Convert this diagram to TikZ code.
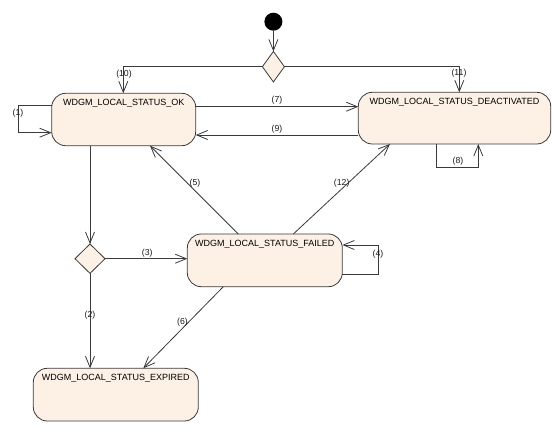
\documentclass[tikz,border=0pt]{standalone}
\usepackage{fontspec}
\setmainfont{Liberation Sans}
\usetikzlibrary{arrows.meta,shapes.geometric,calc}
\definecolor{stfill}{HTML}{FCF1E4}
\definecolor{stline}{HTML}{3A3A3A}
\newcommand\sttitle[3]{\vbox to #2{\hsize=#1\vskip 6.2pt\hbox to #1{\hfil #3\hfil}\vfil}}
\begin{document}
\begin{tikzpicture}[x=1pt,y=-1pt,
  every node/.style={font=\fontsize{9}{11}\selectfont},
  statebox/.style={draw=stline, line width=0.8pt, fill=stfill, rounded corners=14pt, inner sep=0pt, outer sep=0pt, anchor=north west},
  choice/.style={draw=stline, line width=0.8pt, fill=stfill, shape=diamond, inner sep=0pt, outer sep=0pt},
  conn/.style={draw=stline, line width=0.8pt, -{Straight Barb[length=11pt,width=9pt]}},
  lbl/.style={font=\fontsize{8.7}{10}\selectfont, inner sep=0pt, text=black!90}]
\useasboundingbox (0,0) rectangle (554,444);
\fill[white] (0,0) rectangle (554,444);

% states
\node[statebox] (ok) at (51.7,93.3) {\sttitle{144pt}{52.4pt}{WDGM\_LOCAL\_STATUS\_OK}};
\node[statebox] (deact) at (358.3,92.3) {\sttitle{192.4pt}{51.7pt}{WDGM\_LOCAL\_STATUS\_DEACTIVATED}};
\node[statebox] (failed) at (187.3,234) {\sttitle{155pt}{52.7pt}{WDGM\_LOCAL\_STATUS\_FAILED}};
\node[statebox] (expired) at (33.3,368.3) {\sttitle{165pt}{52.7pt}{WDGM\_LOCAL\_STATUS\_EXPIRED}};

% initial and choices
\node[circle, fill=black, minimum size=18pt, inner sep=0pt, outer sep=0pt] (init) at (273.4,21.7) {};
\node[choice, minimum width=22pt, minimum height=30.5pt] (d1) at (273.4,66.7) {};
\node[choice, minimum width=30pt, minimum height=29.4pt] (d2) at (90,258.7) {};

% end points on box borders
\coordinate (p7) at ($(ok.north east)+(0,13.4)$);
\coordinate (p9) at ($(deact.north west)+(0,42.7)$);

% connectors
\draw[conn] (init) -- (d1.north);
\draw[conn] (d1.west) -| ($(ok.north west)+(71.6,0)$);
\draw[conn] (d1.east) -| ($(deact.north west)+(101,0)$);
\draw[conn] (p7) -- (p7 -| deact.west);
\draw[conn] (p9) -- (p9 -| ok.east);
\draw[conn] ($(ok.north west)+(0,11.7)$) -- ++(-33.4,0) |- ($(ok.north west)+(0,39.4)$);
\draw[conn] ($(deact.south west)+(78.4,0)$) -- ++(0,23.3) -| ($(deact.south west)+(120,0)$);
\draw[conn] ($(failed.north west)+(51,0)$) -- ($(ok.south west)+(98.3,0)$);
\draw[conn] ($(failed.north west)+(106,0)$) -- ($(deact.south west)+(31.7,0)$);
\draw[conn] (d2.north |- ok.south) -- (d2.north);
\draw[conn] (d2.east) -- (d2.east -| failed.west);
\draw[conn] ($(failed.north east)+(0,40.3)$) -- ++(36,0) |- ($(failed.north east)+(0,11)$);
\draw[conn] (d2.south) -- (d2.south |- expired.north);
\draw[conn] ($(failed.south west)+(36,0)$) -- ($(expired.north west)+(110,0)$);

% labels
\node[lbl] (l1) at (18,113) {(1)};
\node[lbl] (l2) at (90,315) {(2)};
\node[lbl] (l3) at (147.3,253.3) {(3)};
\node[lbl] (l4) at (378,254.3) {(4)};
\node[lbl] (l5) at (195,183.3) {(5)};
\node[lbl] (l6) at (182.5,322.7) {(6)};
\node[lbl] (l7) at (277,100) {(7)};
\node[lbl] (l8) at (458,161.7) {(8)};
\node[lbl] (l9) at (277,129.3) {(9)};
\node[lbl] (l10) at (124,74) {(10)};
\node[lbl] (l11) at (459,73.3) {(11)};
\node[lbl] (l12) at (341.7,183.3) {(12)};
\end{tikzpicture}
\end{document}
